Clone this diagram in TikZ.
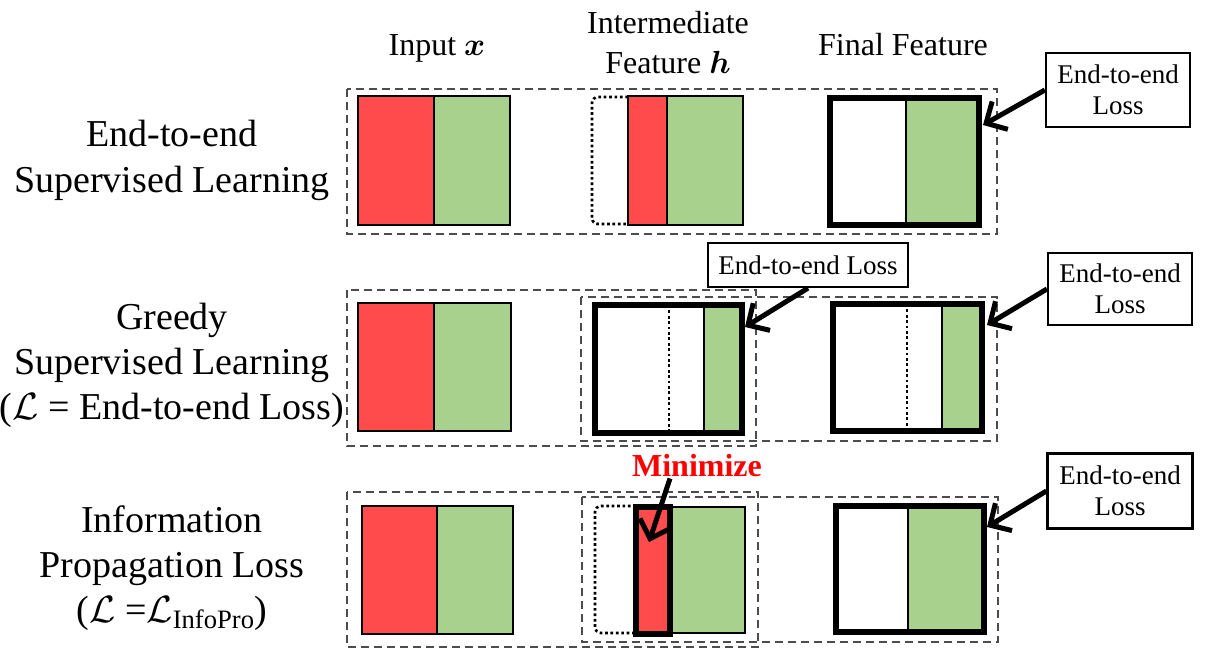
\RequirePackage{fix-cm}
\documentclass[tikz,border=0pt]{standalone}
\usepackage{amsmath}
\usepackage{fontspec}
\setmainfont{Liberation Serif}
\usetikzlibrary{arrows.meta,calc}
\definecolor{myred}{HTML}{FF4B4B}
\definecolor{mygreen}{HTML}{A9D18E}
\begin{document}
\begin{tikzpicture}[x=1pt,y=-1pt,
  grp/.style={draw=black!70,line width=1.4pt,dash pattern=on 8pt off 5pt},
  thinbox/.style={draw=black,line width=2.7pt},
  thickbox/.style={draw=black,line width=6pt,inner sep=0pt,outer sep=0pt,anchor=north west},
  dotbox/.style={draw=black,line width=2.7pt,dash pattern=on 2.7pt off 2.7pt,rounded corners=6pt},
  lossbox/.style={draw=black,line width=2.2pt,fill=white,align=center,inner sep=0pt,font=\fontsize{27}{31}\selectfont},
  hdr/.style={align=center,font=\fontsize{32}{40}\selectfont},
  lbl/.style={align=center,font=\fontsize{38}{46}\selectfont},
  arr/.style={line width=5pt,-{Straight Barb[length=16pt,width=32pt]}},
]
\useasboundingbox (0,0) rectangle (1209,665);

% headers
\node[hdr] (hin) at (437,48) {Input $\boldsymbol{x}$};
\node[hdr] (hmid) at (668,43) {Intermediate\\Feature $\boldsymbol{h}$};
\node[hdr] (hfin) at (903,45) {Final Feature};

% left labels
\node[lbl] (t1) at (172,160) {End-to-end\\Supervised Learning};
\node[lbl,font=\fontsize{38}{45}\selectfont] (t2) at (172,365) {Greedy\\Supervised Learning\\($\mathcal{L}$ = End-to-end Loss)};
\node[lbl,font=\fontsize{38}{45}\selectfont] (t3) at (172,568) {Information\\Propagation Loss\\($\mathcal{L}$ =$\mathcal{L}_{\text{InfoPro}}$)};

% ---------------- Row 1 ----------------
\draw[grp] (347,89) rectangle (997,234);
\draw[thinbox,fill=myred] (358,96) rectangle (434,225);
\draw[thinbox,fill=mygreen] (434,96) rectangle (510,225);
\draw[dotbox] (628,97) -- (592,97) -- (592,224) -- (628,224);
\draw[thinbox,fill=myred] (628,96) rectangle (667,225);
\draw[thinbox,fill=mygreen] (667,96) rectangle (743,225);
\fill[mygreen] (906,98) rectangle (979,225);
\draw[line width=2.5pt] (906,98) -- (906,225);
\node[thickbox,minimum width=149pt,minimum height=127pt] (f1) at (830,98) {};
\node[lossbox,minimum width=144pt,minimum height=74pt] (l1) at (1118,90) {End-to-end\\Loss};
\coordinate (a1) at (983,125);
\draw[arr] (l1.west) -- (a1);

% ---------------- Row 2 ----------------
\draw[grp] (347,290) rectangle (756,446);
\draw[grp] (581,297) rectangle (997,441);
\draw[thinbox,fill=myred] (358,303) rectangle (434,431);
\draw[thinbox,fill=mygreen] (434,303) rectangle (511,431);
\fill[white] (595,305) rectangle (742,433);
\fill[mygreen] (704,305) rectangle (742,433);
\draw[line width=2.7pt,dash pattern=on 2.7pt off 2.7pt] (669,305) -- (669,433);
\draw[line width=2.5pt] (704,305) -- (704,433);
\node[thickbox,minimum width=147pt,minimum height=128pt] (m2) at (595,305) {};
\fill[mygreen] (942,304) rectangle (982,431);
\draw[line width=2.7pt,dash pattern=on 2.7pt off 2.7pt] (907,304) -- (907,431);
\draw[line width=2.5pt] (942,304) -- (942,431);
\node[thickbox,minimum width=149pt,minimum height=127pt] (f2) at (833,304) {};
\node[lossbox,minimum width=200pt,minimum height=44pt] (l2a) at (808,265) {End-to-end Loss};
\node[lossbox,minimum width=144pt,minimum height=72pt] (l2b) at (1120,289) {End-to-end\\Loss};
\coordinate (a2a) at (745,327);
\coordinate (a2b) at (987,325);
\draw[arr] (l2a.south) -- (a2a);
\draw[arr] (l2b.west) -- (a2b);

% ---------------- Row 3 ----------------
\draw[grp] (347,492) rectangle (758,647);
\draw[grp] (582,497) rectangle (998,642);
\draw[thinbox,fill=myred] (362,506) rectangle (437,634);
\draw[thinbox,fill=mygreen] (437,506) rectangle (513,634);
\draw[dotbox] (636,506) -- (595,506) -- (595,633) -- (636,633);
\draw[thinbox,fill=mygreen] (670,507) rectangle (745,633);
\node[thickbox,fill=myred,minimum width=34pt,minimum height=127pt] (m3) at (636,507) {};
\fill[mygreen] (908,506) rectangle (984,632);
\draw[line width=2.5pt] (908,506) -- (908,632);
\node[thickbox,minimum width=148pt,minimum height=126pt] (f3) at (836,506) {};
\node[lossbox,minimum width=145pt,minimum height=75pt] (l3) at (1120,491) {End-to-end\\Loss};
\coordinate (a3) at (987,527);
\draw[arr] (l3.west) -- (a3);
\node[font=\fontsize{32}{36}\selectfont\bfseries,text=red,inner sep=1pt] (mn) at (697,466) {Minimize};
\coordinate (a3m) at (649,542);
\draw[arr] (mn.south -| 670,0) -- (a3m);
\end{tikzpicture}
\end{document}
